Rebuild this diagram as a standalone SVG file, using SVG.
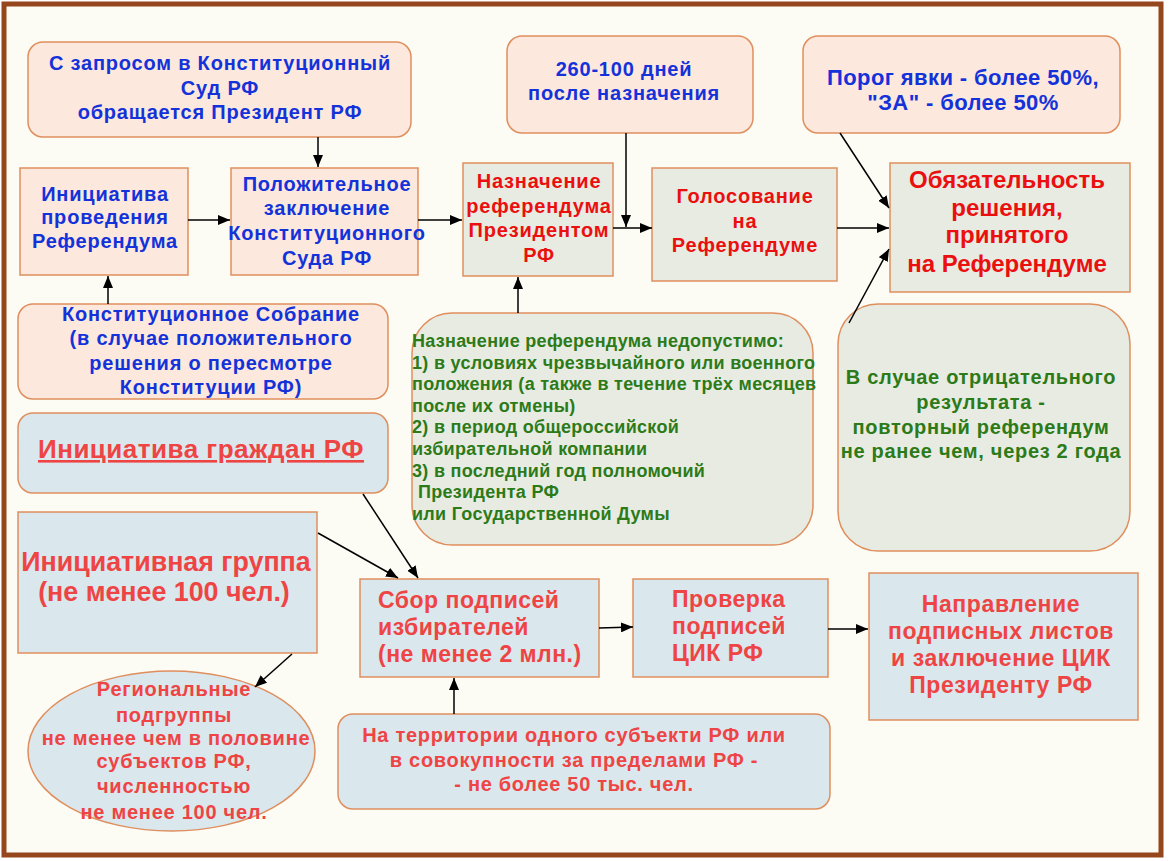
<svg xmlns="http://www.w3.org/2000/svg" width="1169" height="861" viewBox="0 0 1169 861">
<defs>
<marker id="ah" viewBox="0 0 12 10" refX="12" refY="5" markerWidth="12" markerHeight="10" markerUnits="userSpaceOnUse" orient="auto">
<path d="M0,0 L12,5 L0,10 z" fill="#000"/>
</marker>
<style>
.peach{fill:#fce8dc;stroke:#df8e5e;stroke-width:1.5}
.gray{fill:#e8ebe2;stroke:#df8e5e;stroke-width:1.5}
.blue{fill:#dae7ec;stroke:#df8e5e;stroke-width:1.5}
text{font-family:"Liberation Sans",Arial,sans-serif;font-weight:bold}
.tb{fill:#1432d9;font-size:20px;letter-spacing:0.8px;text-anchor:middle}
.tr{fill:#ea1010;font-size:20px;letter-spacing:0.8px;text-anchor:middle}
.tc{fill:#ee4444;text-anchor:middle}
.tg{fill:#2c7a18}
.conn line{stroke:#000;stroke-width:1.5;marker-end:url(#ah)}
</style>
</defs>
<rect x="0" y="0" width="1169" height="861" fill="#ffffff"/>
<rect x="4" y="4" width="1157" height="851" fill="#fcfcf4" stroke="#96461c" stroke-width="5"/>

<g id="n1">
<rect class="peach" x="28" y="42" width="383" height="95" rx="15"/>
<text class="tb" x="220" y="70">С запросом в Конституционный</text>
<text class="tb" x="220" y="95">Суд РФ</text>
<text class="tb" x="220" y="119">обращается Президент РФ</text>
</g>
<g id="n2">
<rect class="peach" x="20" y="168" width="168" height="107"/>
<text class="tb" x="105" y="201">Инициатива</text>
<text class="tb" x="105" y="224">проведения</text>
<text class="tb" x="105" y="248">Референдума</text>
</g>
<g id="n3">
<rect class="peach" x="231" y="168" width="187" height="107"/>
<text class="tb" x="327" y="191">Положительное</text>
<text class="tb" x="327" y="215">заключение</text>
<text class="tb" x="327" y="240">Конституционного</text>
<text class="tb" x="327" y="265">Суда РФ</text>
</g>
<g id="n4">
<rect class="gray" x="463" y="163" width="150" height="113"/>
<text class="tr" x="539" y="188">Назначение</text>
<text class="tr" x="539" y="213">референдума</text>
<text class="tr" x="539" y="237">Президентом</text>
<text class="tr" x="539" y="262">РФ</text>
</g>
<g id="n5">
<rect class="peach" x="507" y="36" width="246" height="97" rx="15"/>
<text class="tb" x="624" y="76">260-100 дней</text>
<text class="tb" x="624" y="100">после назначения</text>
</g>
<g id="n6">
<rect class="gray" x="652" y="168" width="185" height="113"/>
<text class="tr" x="745" y="203">Голосование</text>
<text class="tr" x="745" y="228">на</text>
<text class="tr" x="745" y="252">Референдуме</text>
</g>
<g id="n7">
<rect class="peach" x="803" y="36" width="317" height="97" rx="15"/>
<text class="tb" x="963" y="85" style="font-size:22px;letter-spacing:0.4px">Порог явки - более 50%,</text>
<text class="tb" x="963" y="110" style="font-size:22px;letter-spacing:0.4px">"ЗА" - более 50%</text>
</g>
<g id="n8">
<rect class="gray" x="890" y="163" width="240" height="129"/>
<text class="tr" x="1007" y="188" style="font-size:24px;letter-spacing:0">Обязательность</text>
<text class="tr" x="1007" y="216" style="font-size:24px;letter-spacing:0">решения,</text>
<text class="tr" x="1007" y="243" style="font-size:24px;letter-spacing:0">принятого</text>
<text class="tr" x="1007" y="272" style="font-size:24px;letter-spacing:0">на Референдуме</text>
</g>
<g id="n9">
<rect class="peach" x="18" y="304" width="370" height="95" rx="15"/>
<text class="tb" x="211" y="321">Конституционное Собрание</text>
<text class="tb" x="211" y="345">(в случае положительного</text>
<text class="tb" x="211" y="370">решения о пересмотре</text>
<text class="tb" x="211" y="394">Конституции РФ)</text>
</g>
<g id="n10">
<rect class="blue" x="18" y="413" width="370" height="80" rx="15"/>
<text class="tc" x="201" y="458" style="font-size:26px;letter-spacing:0.5px;text-decoration:underline">Инициатива граждан РФ</text>
</g>
<g id="n11">
<rect class="blue" x="18" y="512" width="299" height="141"/>
<text class="tc" x="166" y="571" style="font-size:26.8px">Инициативная группа</text>
<text class="tc" x="164" y="601" style="font-size:26.8px">(не менее 100 чел.)</text>
</g>
<g id="n12">
<rect class="blue" x="360" y="579" width="239" height="98"/>
<text class="tc" x="378" y="608" style="font-size:23px;letter-spacing:0.5px;text-anchor:start">Сбор подписей</text>
<text class="tc" x="378" y="635" style="font-size:23px;letter-spacing:0.5px;text-anchor:start">избирателей</text>
<text class="tc" x="378" y="662" style="font-size:23px;letter-spacing:0.5px;text-anchor:start">(не менее 2 млн.)</text>
</g>
<g id="n13">
<rect class="blue" x="633" y="579" width="195" height="98"/>
<text class="tc" x="672" y="607" style="font-size:23px;letter-spacing:0.5px;text-anchor:start">Проверка</text>
<text class="tc" x="672" y="634" style="font-size:23px;letter-spacing:0.5px;text-anchor:start">подписей</text>
<text class="tc" x="672" y="661" style="font-size:23px;letter-spacing:0.5px;text-anchor:start">ЦИК РФ</text>
</g>
<g id="n14">
<rect class="blue" x="869" y="573" width="269" height="147"/>
<text class="tc" x="1001" y="612" style="font-size:23px;letter-spacing:0.6px">Направление</text>
<text class="tc" x="1001" y="639" style="font-size:23px;letter-spacing:0.6px">подписных листов</text>
<text class="tc" x="1001" y="666" style="font-size:23px;letter-spacing:0.6px">и заключение ЦИК</text>
<text class="tc" x="1001" y="693" style="font-size:23px;letter-spacing:0.6px">Президенту РФ</text>
</g>
<g id="n15">
<rect class="blue" x="338" y="714" width="492" height="95" rx="15"/>
<text class="tc" x="574" y="742" style="font-size:20px;letter-spacing:0.7px">На территории одного субъекти РФ или</text>
<text class="tc" x="574" y="767" style="font-size:20px;letter-spacing:0.7px">в совокупности за пределами РФ -</text>
<text class="tc" x="574" y="791" style="font-size:20px;letter-spacing:0.7px">- не более 50 тыс. чел.</text>
</g>
<g id="n16">
<ellipse class="blue" cx="171.5" cy="751" rx="143.5" ry="80"/>
<text class="tc" x="174" y="696" style="font-size:20px;letter-spacing:0.75px">Региональные</text>
<text class="tc" x="174" y="722" style="font-size:20px;letter-spacing:0.75px">подгруппы</text>
<text class="tc" x="176" y="745" style="font-size:20px;letter-spacing:0.75px">не менее чем в половине</text>
<text class="tc" x="174" y="768" style="font-size:20px;letter-spacing:0.75px">субъектов РФ,</text>
<text class="tc" x="174" y="793" style="font-size:20px;letter-spacing:0.75px">численностью</text>
<text class="tc" x="174" y="819" style="font-size:20px;letter-spacing:0.75px">не менее 100 чел.</text>
</g>
<g id="n17">
<rect class="gray" x="412" y="313" width="401" height="232" rx="40"/>
<g style="font-size:18px;letter-spacing:0.3px">
<text class="tg" x="412" y="347">Назначение референдума недопустимо:</text>
<text class="tg" x="412" y="369">1) в условиях чрезвычайного или военного</text>
<text class="tg" x="412" y="390">положения (а также в течение трёх месяцев</text>
<text class="tg" x="412" y="412">после их отмены)</text>
<text class="tg" x="412" y="433">2) в период общероссийской</text>
<text class="tg" x="412" y="455">избирательной компании</text>
<text class="tg" x="412" y="477">3) в последний год полномочий</text>
<text class="tg" x="418" y="498">Президента РФ</text>
<text class="tg" x="412" y="520">или Государственной Думы</text>
</g>
</g>
<g id="n18">
<rect class="gray" x="838" y="304" width="292" height="247" rx="40"/>
<g style="font-size:20px;letter-spacing:0.7px;text-anchor:middle">
<text class="tg" x="981" y="384">В случае отрицательного</text>
<text class="tg" x="981" y="409">результата -</text>
<text class="tg" x="981" y="434">повторный референдум</text>
<text class="tg" x="981" y="458">не ранее чем, через 2 года</text>
</g>
</g>

<g id="connectors" class="conn">
<line x1="318" y1="137" x2="318" y2="167"/>
<line x1="188" y1="220" x2="230" y2="220"/>
<line x1="108" y1="304" x2="108" y2="276"/>
<line x1="418" y1="220" x2="462" y2="220"/>
<line x1="626" y1="133" x2="626" y2="227"/>
<line x1="613" y1="228" x2="652" y2="228"/>
<line x1="837" y1="228" x2="889" y2="228"/>
<line x1="840" y1="133" x2="889" y2="208"/>
<line x1="849" y1="323" x2="889" y2="249"/>
<line x1="518" y1="313" x2="518" y2="277"/>
<line x1="318" y1="533" x2="398" y2="578"/>
<line x1="363" y1="494" x2="418" y2="578"/>
<line x1="292" y1="654" x2="255" y2="687"/>
<line x1="454" y1="714" x2="454" y2="678"/>
<line x1="599" y1="628" x2="633" y2="627"/>
<line x1="828" y1="629" x2="868" y2="629"/>
</g>
</svg>
